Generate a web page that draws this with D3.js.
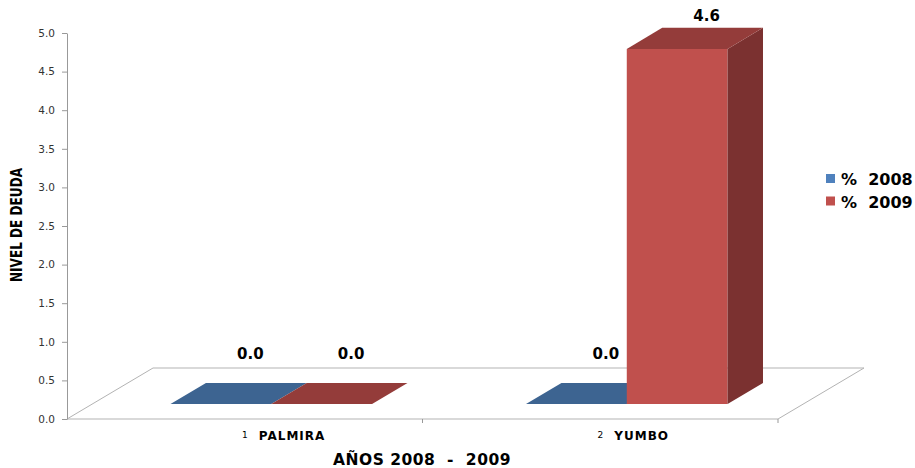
<!DOCTYPE html>
<html><head><meta charset="utf-8">
<script src="https://cdn.jsdelivr.net/npm/d3@7/dist/d3.min.js"></script>
<style>body{margin:0;background:#fff}svg{display:block}</style>
</head><body>
<svg id="c" width="915" height="468"></svg>
<script>
const categories = ["PALMIRA", "YUMBO"];
const categoryNumbers = ["1", "2"];
const series = ["% 2008", "% 2009"];
const values2008 = [0.0, 0.0];
const values2009 = [0.0, 4.6];
const yTicks = [0, 0.5, 1, 1.5, 2, 2.5, 3, 3.5, 4, 4.5, 5];
const yTitle = "NIVEL DE DEUDA";
const xTitle = "AÑOS 2008  -  2009";

const colors = {
  "% 2008": {front:"#4a76a8", top:"#3d6491", side:"#2f4f74", legend:"#4f81bd"},
  "% 2009": {front:"#c0504d", top:"#943c3a", side:"#7b3130", legend:"#c0504d"}
};

const svg = d3.select("#c");
const DX = 86, DY = 51, Z0 = 0.294, Z1 = 0.706;
const y = d3.scaleLinear().domain([0,5]).range([419,33]);
const x = d3.scaleBand().domain(categories).range([67,778]);
const bw = x.bandwidth();
const xs = d3.scaleBand().domain(series).range([bw*0.22, bw*0.787]);
const labelY = d3.scaleLinear().domain([0,5]).range([359,-8.5]);
const proj = (px, py, z) => [px + z*DX, py - z*DY];

// floor
const f0 = y(0);
const floorPts = [[67,f0],[778,f0],proj(778,f0,1),proj(67,f0,1)];
svg.append("path").attr("d","M"+floorPts.map(p=>p.join(",")).join("L")+"Z")
  .attr("fill","none").attr("stroke","#b3b3b3").attr("stroke-width",1);
// category ticks
svg.selectAll(".ct").data(categories).enter().append("line")
  .attr("x1",d=>x(d)+bw).attr("x2",d=>x(d)+bw).attr("y1",f0).attr("y2",f0+4)
  .attr("stroke","#999");

// y axis
const yAxis = d3.axisLeft(y).tickValues(yTicks).tickFormat(d3.format(".1f")).tickSize(5).tickSizeOuter(0);
const ga = svg.append("g").attr("transform","translate(67,0)").call(yAxis);
ga.select(".domain").attr("stroke","#999");
ga.selectAll(".tick line").attr("stroke","#999");
ga.selectAll(".tick text").attr("fill","#333").attr("font-family","DejaVu Sans").attr("font-size",10.5).attr("x",-12);

// bars
const data = [];
categories.forEach((c,i)=>{
  data.push({cat:c, s:"% 2008", v:values2008[i]});
  data.push({cat:c, s:"% 2009", v:values2009[i]});
});
const poly = pts => "M"+pts.map(p=>p.join(",")).join("L")+"Z";
data.forEach(d=>{
  const x0 = x(d.cat)+xs(d.s), x1 = x0 + xs.bandwidth();
  const yb = y(0), yt = y(d.v);
  const col = colors[d.s];
  const g = svg.append("g");
  if (d.v > 0) {
    g.append("path").attr("d",poly([proj(x0,yb,Z0),proj(x1,yb,Z0),proj(x1,yt,Z0),proj(x0,yt,Z0)])).attr("fill",col.front);
    g.append("path").attr("d",poly([proj(x1,yb,Z0),proj(x1,yb,Z1),proj(x1,yt,Z1),proj(x1,yt,Z0)])).attr("fill",col.side);
  }
  g.append("path").attr("d",poly([proj(x0,yt,Z0),proj(x1,yt,Z0),proj(x1,yt,Z1),proj(x0,yt,Z1)])).attr("fill",col.top);
  const lc = proj((x0+x1)/2, yt, Z1);
  svg.append("text").attr("x",lc[0]-6).attr("y",labelY(d.v)).attr("text-anchor","middle")
    .attr("font-family","DejaVu Sans").attr("font-weight","bold").attr("font-size",15).attr("fill","#000")
    .text(d3.format(".1f")(d.v));
});

// category labels
categories.forEach((c,i)=>{
  const cx = x(c)+bw/2;
  svg.append("text").attr("x",cx).attr("y",438).attr("text-anchor","middle")
    .attr("font-family","DejaVu Sans").attr("font-size",9).attr("fill","#000").text(categoryNumbers[i]);
  svg.append("text").attr("x",cx+14).attr("y",440)
    .attr("font-family","DejaVu Sans").attr("font-weight","bold").attr("font-size",12).attr("letter-spacing",1)
    .attr("fill","#000").text(c);
});

// axis titles
svg.append("text").attr("x",422).attr("y",465).attr("text-anchor","middle")
  .attr("font-family","DejaVu Sans").attr("font-weight","bold").attr("font-size",15.5).attr("letter-spacing",0.5)
  .style("white-space","pre").attr("fill","#000").text(xTitle);
svg.append("text").attr("transform","translate(22,225) rotate(-90)").attr("text-anchor","middle")
  .attr("font-family","'Liberation Sans Narrow','DejaVu Sans Condensed',sans-serif").attr("font-weight","bold")
  .attr("font-size",16).attr("textLength",114).attr("lengthAdjust","spacingAndGlyphs")
  .attr("fill","#000").text(yTitle);

// legend
series.forEach((s,i)=>{
  svg.append("rect").attr("x",826).attr("y",174+i*22.5).attr("width",9).attr("height",9).attr("fill",colors[s].legend);
  svg.append("text").attr("x",841).attr("y",185+i*22.5)
    .attr("font-family","DejaVu Sans").attr("font-weight","bold").attr("font-size",16)
    .style("white-space","pre").attr("fill","#000").text(s.replace(" ","  "));
});
</script>
</body></html>
